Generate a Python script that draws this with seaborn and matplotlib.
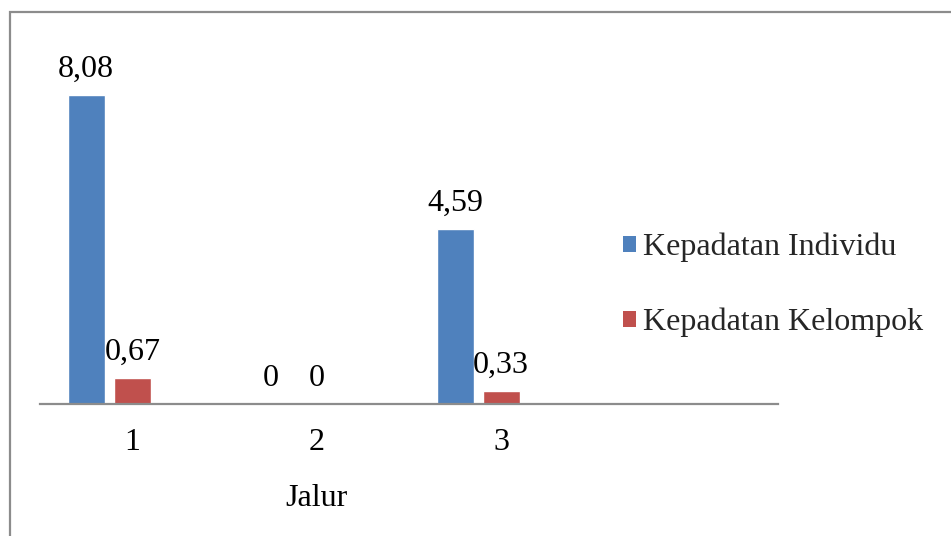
import matplotlib
matplotlib.use("Agg")
import matplotlib.pyplot as plt
from matplotlib.patches import Rectangle, Patch
import seaborn as sns
import pandas as pd

# Data
jalur = ["1", "2", "3"]
slots = ["1", "2", "3", " "]          # trailing empty category slot
individu = [8.08, 0.0, 4.59]
kelompok = [0.67, 0.0, 0.33]
series = ["Kepadatan Individu", "Kepadatan Kelompok"]
series_slots = series + ["  "]         # third, empty series slot
colors = {"Kepadatan Individu": "#4F81BD", "Kepadatan Kelompok": "#C0504D", "  ": "#FFFFFF"}

df = pd.DataFrame({
    "Jalur": jalur * 2,
    "Seri": [series[0]] * 3 + [series[1]] * 3,
    "Nilai": individu + kelompok,
})

sns.set_theme(style="white")
plt.rcParams["font.family"] = ["Liberation Serif", "DejaVu Serif"]
FS = 23

fig = plt.figure(figsize=(9.51, 5.36), dpi=100)
ax = fig.add_axes([40 / 951, 1 - 404 / 536, 738 / 951, 344 / 536])

sns.barplot(data=df, x="Jalur", y="Nilai", hue="Seri", order=slots,
            hue_order=series_slots, palette=colors, width=0.75, gap=0.196,
            saturation=1, errorbar=None, legend=False, ax=ax)

ax.set_xlim(-0.5, 3.5)
ax.set_ylim(0, 9)

# Value labels with decimal comma
for cont in ax.containers:
    labels = []
    for b in cont:
        h = b.get_height()
        if h != h:  # NaN
            labels.append("")
        else:
            labels.append(f"{h:.2f}".replace(".", ",") if h != 0 else "0")
    ax.bar_label(cont, labels=labels, padding=8, fontsize=FS, color="black")

for s in ["left", "right", "top"]:
    ax.spines[s].set_visible(False)
ax.spines["bottom"].set_color("#8C8C8C")
ax.spines["bottom"].set_linewidth(1.6)
ax.set_yticks([])
ax.set_ylabel("")
ax.tick_params(axis="x", length=0, pad=17, labelsize=FS, colors="black")
ax.set_xticks(range(4))
ax.set_xticklabels(slots)
ax.set_xlabel("Jalur", fontsize=FS, color="black", labelpad=20)
ax.xaxis.label.set_x((316 - 40) / 738)

# Legend
handles = [Patch(facecolor=colors[s], edgecolor="none") for s in series]
fig.legend(handles, series, loc="upper left", bbox_to_anchor=(610 / 951, 1 - 220 / 536),
           frameon=False, fontsize=FS, handlelength=0.4, handleheight=0.4,
           handletextpad=0.22, labelspacing=1.42, borderaxespad=0)

# Outer chart border
fig.patches.append(Rectangle((10 / 951, -0.1), 1.2, 1.1 - 12 / 536, transform=fig.transFigure,
                             fill=False, edgecolor="#8C8C8C", linewidth=1.6))

fig.savefig("out.png", dpi=100)
